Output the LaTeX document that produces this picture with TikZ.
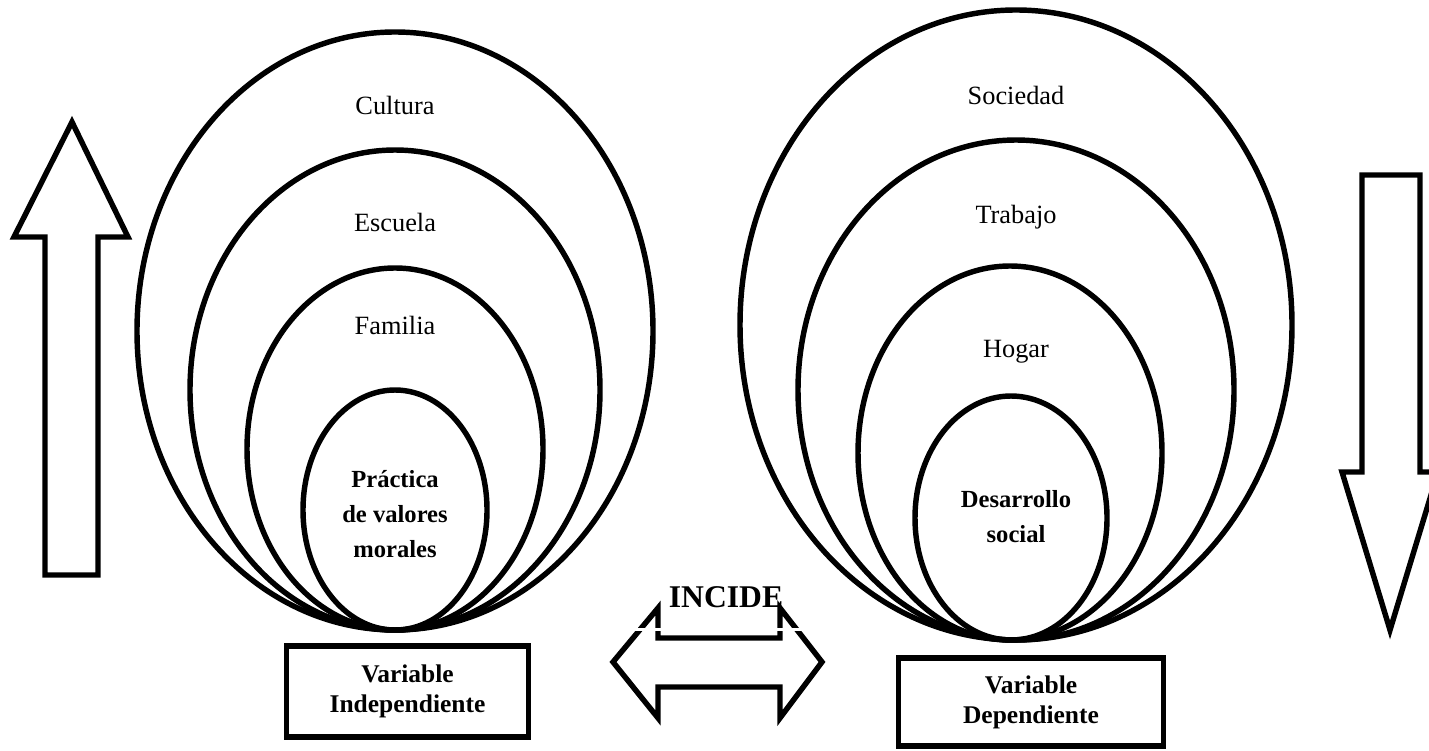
\documentclass[tikz,border=0pt]{standalone}
\usepackage{fontspec}
\setmainfont{Liberation Serif}

\begin{document}
\begin{tikzpicture}[x=0.02cm, y=-0.02cm,
    ring/.style={line width=3.1pt},
    blockarrow/.style={line width=3.1pt, line join=miter},
    lbl/.style={font=\fontsize{15}{18}\selectfont},
    core/.style={align=center, font=\fontsize{14}{20}\selectfont\bfseries},
    varbox/.style={draw, line width=3.1pt, align=center, font=\fontsize{14.5}{17}\selectfont\bfseries}]
  \useasboundingbox (0,0) rectangle (1429,750);
  \draw[ring] (395,331) ellipse [x radius=258, y radius=299];
  \draw[ring] (395,390) ellipse [x radius=205, y radius=240];
  \draw[ring] (395,449) ellipse [x radius=148, y radius=181];
  \draw[ring] (395,510) ellipse [x radius=92, y radius=120];
  \node[lbl] (cultura) at (395,105) {Cultura};
  \node[lbl] (escuela) at (395,222) {Escuela};
  \node[lbl] (familia) at (395,325) {Familia};
  \node[core] (practica) at (395,514) {Práctica\\de valores\\morales};
  \draw[ring] (1016,325) ellipse [x radius=276, y radius=315];
  \draw[ring] (1016,390) ellipse [x radius=218, y radius=250];
  \draw[ring] (1010,453) ellipse [x radius=152, y radius=187];
  \draw[ring] (1011,518) ellipse [x radius=96, y radius=122];
  \node[lbl] (sociedad) at (1016,95) {Sociedad};
  \node[lbl] (trabajo) at (1016,217) {Trabajo};
  \node[lbl] (hogar) at (1016,352) {Hogar};
  \node[core] (desarrollo) at (1016,517) {Desarrollo\\social};
  \node[varbox, minimum width=138pt, minimum height=52pt] (indep) at (407.5,691.5) {Variable\\Independiente};
  \node[varbox, minimum width=151pt, minimum height=50pt] (dep) at (1031,702) {Variable\\Dependiente};
  \draw[blockarrow] (72,122) -- (128,237) -- (98,237) -- (98,575) -- (45,575) -- (45,237) -- (14,237) -- cycle;
  \draw[blockarrow] (1362,175) -- (1420,175) -- (1420,472) -- (1438,472) -- (1390,630) -- (1342,472) -- (1362,472) -- cycle;
  \draw[blockarrow] (613,662) -- (658,608) -- (658,638) -- (780,638) -- (780,608) -- (822,662) -- (780,718) -- (780,687) -- (658,687) -- (658,718) -- cycle;
  \node[draw=white, line width=2pt, minimum width=102pt, minimum height=37pt, font=\fontsize{18}{20}\selectfont\bfseries] (incide) at (726,597) {INCIDE};
\end{tikzpicture}
\end{document}
